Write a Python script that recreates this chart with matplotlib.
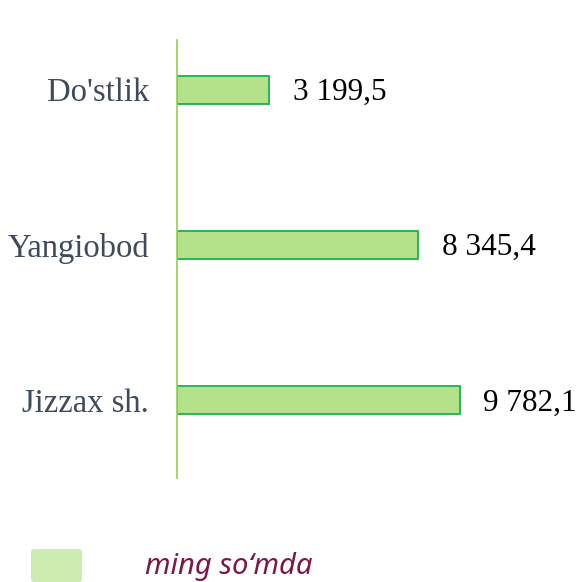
import matplotlib.pyplot as plt
from matplotlib.patches import FancyBboxPatch

categories = ["Jizzax sh.", "Yangiobod", "Do'stlik"]
values = [9782.1, 8345.4, 3199.5]
value_labels = ["9 782,1", "8 345,4", "3 199,5"]
legend_text = "ming so\u2018mda"

fig = plt.figure(figsize=(5.8, 5.82), dpi=100)
W, H = 580, 582
ax = fig.add_axes([177 / W, (H - 478) / H, (W - 177) / W, 438 / H])

pos = range(len(categories))
ax.barh(pos, values, height=0.18, color="#B3E28A", edgecolor="#1DB04C", linewidth=1.3)

for p, v, lab in zip(pos, values, value_labels):
    ax.annotate(lab, (v, p), xytext=(17, -2), textcoords="offset points",
                va="center", ha="left", fontsize=22.5, family="Liberation Serif", color="black")

ax.set_xlim(0, 13940)
ax.set_ylim(-0.5, 2.32)
ax.set_yticks(list(pos))
ax.set_yticklabels(categories, fontsize=23.5, family="Liberation Serif", color="#3F4A5A")
ax.tick_params(axis="y", length=0, pad=20)
ax.set_xticks([])
for s in ["top", "right", "bottom"]:
    ax.spines[s].set_visible(False)
ax.spines["left"].set_color("#92D050")
ax.spines["left"].set_linewidth(1.2)

# legend
fig.patches.append(FancyBboxPatch((31 / W, 0.0), 51 / W, 33 / H,
                                  boxstyle="round,pad=0,rounding_size=0.005",
                                  transform=fig.transFigure, facecolor="#CDEDB0",
                                  edgecolor="none"))
fig.text(145 / W, 8 / H, legend_text, fontsize=21, family="Noto Sans", style="italic",
         color="#7A1848", va="baseline", ha="left")

fig.savefig("out.png", dpi=100)
